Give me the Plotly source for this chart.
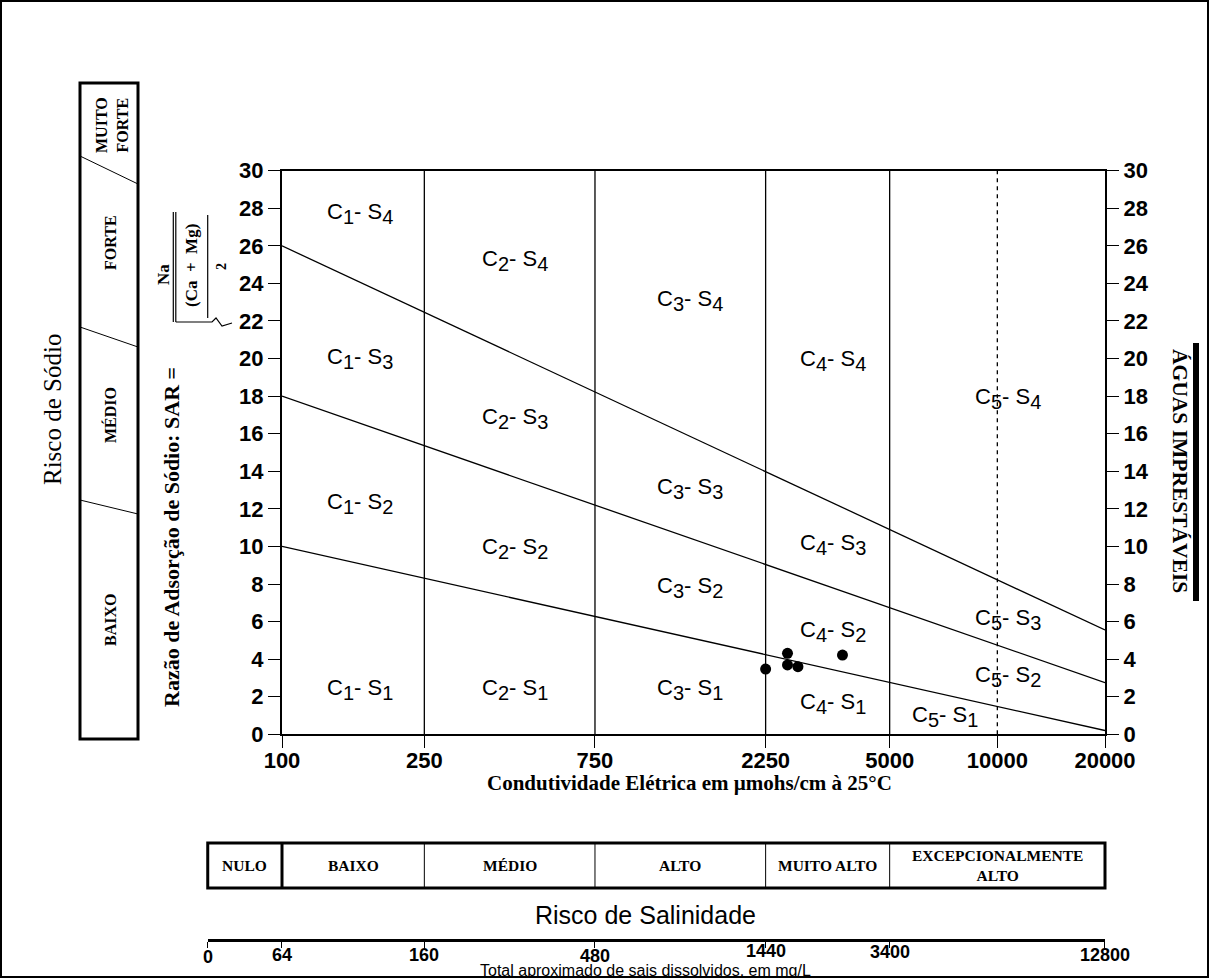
import math
import plotly.graph_objects as go

# ---------------- data ----------------
ec_ticks = [100, 250, 750, 2250, 5000, 10000, 20000]
ec_tick_labels = ["100", "250", "750", "2250", "5000", "10000", "20000"]
sar_ticks = list(range(0, 31, 2))

class_lines_solid = [250, 750, 2250, 5000]
class_lines_dashed = [10000]

s_line_ec = [100, 20000]
s12_sar = [10.0, 0.2]
s23_sar = [18.0, 2.75]
s34_sar = [26.0, 5.55]

sample_ec = [2250, 2590, 2590, 2770, 3690]
sample_sar = [3.47, 4.31, 3.69, 3.60, 4.22]

zone_c = [1, 2, 3, 4, 5, 1, 2, 3, 4, 5, 1, 2, 3, 4, 5, 1, 2, 3, 4, 5]
zone_s = [4, 4, 4, 4, 4, 3, 3, 3, 3, 3, 2, 2, 2, 2, 2, 1, 1, 1, 1, 1]
zone_ec = [165, 449, 1384, 3475, 10720,
           165, 449, 1384, 3475, 10720,
           165, 449, 1384, 3475, 10720,
           165, 449, 1384, 3475, 7150]
zone_sar = [27.7, 25.2, 23.1, 19.9, 17.9,
            20.0, 16.8, 13.1, 10.1, 6.1,
            12.3, 9.9, 7.8, 5.45, 3.1,
            2.36, 2.36, 2.36, 1.66, 0.93]

salinity_classes = ["NULO", "BAIXO", "MÉDIO", "ALTO", "MUITO ALTO", "EXCEPCIONALMENTE<br>ALTO"]
salinity_bounds_ec = [62, 100, 250, 750, 2250, 5000, 20000]
tds_labels = ["0", "64", "160", "480", "1440", "3400", "12800"]
tds_ec_equiv = [62, 100, 250, 750, 2250, 5000, 20000]

sodium_classes = ["BAIXO", "MÉDIO", "FORTE", "MUITO<br>FORTE"]

# ---------------- layout helpers ----------------
W, H = 1209, 978
def PX(x):
    return x / W
def PY(y):
    return 1 - y / H

XD = [PX(282), PX(1105)]
YD = [PY(734.3), PY(170.7)]
LOGMIN, LOGMAX = 2.0, math.log10(20000)

def ec_to_paper(ec):
    return XD[0] + (math.log10(ec) - LOGMIN) / (LOGMAX - LOGMIN) * (XD[1] - XD[0])

SERIF = "Liberation Serif, Times New Roman, DejaVu Serif, serif"
SANS = "Liberation Sans, Arial, sans-serif"

fig = go.Figure()

# class boundary verticals
for ec in class_lines_solid:
    fig.add_trace(go.Scatter(x=[ec, ec], y=[0, 30], mode="lines",
                             line=dict(color="black", width=1.3),
                             hoverinfo="skip", showlegend=False))
for ec in class_lines_dashed:
    fig.add_trace(go.Scatter(x=[ec, ec], y=[0, 30], mode="lines",
                             line=dict(color="black", width=1.3, dash="4px,4px"),
                             hoverinfo="skip", showlegend=False))

# sodium hazard boundary lines
for s in (s12_sar, s23_sar, s34_sar):
    fig.add_trace(go.Scatter(x=s_line_ec, y=s, mode="lines",
                             line=dict(color="black", width=1.3),
                             hoverinfo="skip", showlegend=False))

# samples
fig.add_trace(go.Scatter(x=sample_ec, y=sample_sar, mode="markers",
                         marker=dict(color="black", size=11),
                         showlegend=False))

# right axis carrier
fig.add_trace(go.Scatter(x=[100], y=[0], yaxis="y2", mode="markers",
                         marker=dict(opacity=0), hoverinfo="skip", showlegend=False))
# TDS axis carrier
fig.add_trace(go.Scatter(x=[100], y=[0], xaxis="x2", mode="markers",
                         marker=dict(opacity=0), hoverinfo="skip", showlegend=False))


def ann(x, y, text, size, family=SERIF, angle=0, xref="paper", yref="paper"):
    return dict(x=x, y=y, xref=xref, yref=yref, text=text, showarrow=False,
                textangle=angle, xanchor="center", yanchor="middle",
                font=dict(family=family, size=size, color="black"))


annotations = []
# zone labels
for c, s, ec, sar in zip(zone_c, zone_s, zone_ec, zone_sar):
    txt = ("C<sub><span style='font-size:20px'>%d</span></sub>- "
           "S<sub><span style='font-size:20px'>%d</span></sub>") % (c, s)
    annotations.append(ann(math.log10(ec), sar, txt, 22, family=SANS, xref="x", yref="y"))

# axis titles and side labels
annotations += [
    ann(PX(690), PY(783), "<b>Condutividade Elétrica em µmohs/cm à 25°C</b>", 21),
    ann(PX(171), PY(537), "<b>Razão de Adsorção de Sódio: SAR =</b>", 22, angle=-90),
    ann(PX(163), PY(275), "<b>Na</b>", 17, angle=-90),
    ann(PX(191), PY(266), "<b>(Ca  +  Mg)</b>", 17, angle=-90),
    ann(PX(221), PY(267), "<b>2</b>", 14, angle=-90),
    ann(PX(52), PY(410), "Risco de Sódio", 25, angle=-90),
    ann(PX(1180), PY(471), "<b>ÁGUAS IMPRESTÁVEIS</b>", 21.5, angle=90),
    ann(PX(645), PY(915), "Risco de Salinidade", 25, family=SANS),
    ann(PX(645), PY(970), "Total aproximado de sais dissolvidos, em mg/L", 16, family=SANS),
]

# TDS tick labels (staggered like the original)
tds_label_y = [957, 955, 955, 956, 951, 952, 955]
for lab, ec, ty in zip(tds_labels, tds_ec_equiv, tds_label_y):
    annotations.append(dict(x=ec_to_paper(ec), y=PY(ty), xref="paper", yref="paper",
                            text="<b>%s</b>" % lab, showarrow=False,
                            xanchor="center", yanchor="middle",
                            font=dict(family=SANS, size=18, color="black")))

shapes = []
# outer frame
shapes.append(dict(type="rect", xref="paper", yref="paper", x0=PX(1), x1=PX(W - 1),
                   y0=PY(H - 1), y1=PY(1), line=dict(color="black", width=2)))

# formula strokes
for xl, y0, y1 in [(173.3, 212, 322), (175.8, 212, 322), (207.7, 215, 318)]:
    shapes.append(dict(type="line", xref="paper", yref="paper", x0=PX(xl), x1=PX(xl),
                       y0=PY(y0), y1=PY(y1), line=dict(color="black", width=1.2)))
shapes.append(dict(type="path", xref="paper", yref="paper",
                   path="M %f %f L %f %f L %f %f L %f %f L %f %f" % (
                       PX(175.8), PY(322), PX(212), PY(322), PX(216), PY(318),
                       PX(222), PY(326), PX(232), PY(323)),
                   line=dict(color="black", width=1.2)))

# black bar next to ÁGUAS IMPRESTÁVEIS
shapes.append(dict(type="rect", xref="paper", yref="paper", x0=PX(1193), x1=PX(1199),
                   y0=PY(601), y1=PY(343), fillcolor="black", line=dict(width=0)))

# sodium hazard box
BX0, BX1, BY0, BY1 = 80, 138, 83, 739
shapes.append(dict(type="rect", xref="paper", yref="paper", x0=PX(BX0), x1=PX(BX1),
                   y0=PY(BY1), y1=PY(BY0), line=dict(color="black", width=3)))
for yl, yr in [(156, 184), (327, 347), (500, 514)]:
    shapes.append(dict(type="line", xref="paper", yref="paper", x0=PX(BX0), x1=PX(BX1),
                       y0=PY(yl), y1=PY(yr), line=dict(color="black", width=1)))
sodium_text_pos = [(110, 620), (110, 415), (110, 243), (112, 125)]
for lab, (tx, ty) in zip(sodium_classes, sodium_text_pos):
    annotations.append(ann(PX(tx), PY(ty), "<b>%s</b>" % lab, 16, angle=-90))

# salinity hazard box
SY0, SY1 = 843, 888
sx = [ec_to_paper(e) for e in salinity_bounds_ec]
shapes.append(dict(type="rect", xref="paper", yref="paper", x0=sx[0], x1=sx[-1],
                   y0=PY(SY1), y1=PY(SY0), line=dict(color="black", width=3)))
for i, xb in enumerate(sx[1:-1]):
    shapes.append(dict(type="line", xref="paper", yref="paper", x0=xb, x1=xb,
                       y0=PY(SY1), y1=PY(SY0),
                       line=dict(color="black", width=3 if i == 0 else 1)))
for i, lab in enumerate(salinity_classes):
    annotations.append(ann((sx[i] + sx[i + 1]) / 2, PY((SY0 + SY1) / 2),
                           "<b>%s</b>" % lab, 15.5))

tickfont = dict(family=SANS, size=22, color="black", weight="bold")

fig.update_layout(
    width=W, height=H,
    margin=dict(l=0, r=0, t=0, b=0, pad=0, autoexpand=False),
    paper_bgcolor="white", plot_bgcolor="rgba(0,0,0,0)",
    showlegend=False,
    xaxis=dict(type="log", range=[LOGMIN, LOGMAX], domain=XD,
               tickvals=ec_ticks, ticktext=ec_tick_labels,
               ticks="outside", ticklen=12, tickwidth=1.3, tickcolor="black",
               ticklabelstandoff=-7,
               showline=True, linecolor="black", linewidth=2, mirror=True,
               showgrid=False, zeroline=False, tickfont=tickfont, anchor="y",
               automargin=False),
    yaxis=dict(range=[0, 30], domain=YD, tickvals=sar_ticks,
               ticks="outside", ticklen=12, tickwidth=1.3, tickcolor="black",
               showline=True, linecolor="black", linewidth=2,
               showgrid=False, zeroline=False, tickfont=tickfont, anchor="x",
               automargin=False),
    yaxis2=dict(range=[0, 30], overlaying="y", side="right", tickvals=sar_ticks,
                ticks="outside", ticklen=12, tickwidth=1.3, tickcolor="black",
                showline=True, linecolor="black", linewidth=2,
                showgrid=False, zeroline=False, tickfont=tickfont, anchor="x",
                automargin=False),
    xaxis2=dict(type="log",
                range=[math.log10(tds_ec_equiv[0]), LOGMAX],
                domain=[ec_to_paper(tds_ec_equiv[0]), XD[1]],
                anchor="free", position=PY(940),
                tickvals=tds_ec_equiv, showticklabels=False,
                ticks="outside", ticklen=6, tickwidth=1.3, tickcolor="black",
                showline=True, linecolor="black", linewidth=3,
                showgrid=False, zeroline=False, automargin=False),
    annotations=annotations,
    shapes=shapes,
)

fig.write_html("out.html",
               config={"displayModeBar": False},
               post_script="document.body.style.margin='0px';"
                           "document.body.style.overflow='hidden';")
